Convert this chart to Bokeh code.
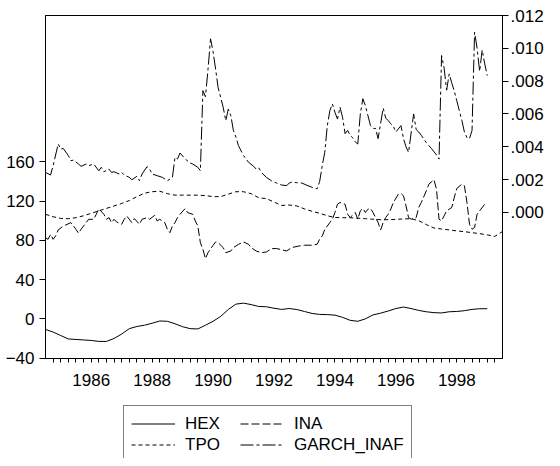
from bokeh.plotting import figure
from bokeh.layouts import column
from bokeh.models import (Range1d, LinearAxis, FixedTicker, Legend, LegendItem,
                          CustomJSTickFormatter)
from bokeh.embed import file_html
from bokeh.resources import INLINE

# ---------------- data (month index counted from January 1985) ----------------
START_YEAR = 1985

hex_month = list(range(0, 175, 3))
hex_vals = [-10.8, -13.5, -17, -20.5, -21, -21.5, -22, -23, -23, -20, -15.5, -10,
            -7.8, -6.5, -4.5, -2.2, -2.5, -5, -8, -10, -10.3, -6.5, -2.5, 2.5,
            9.5, 15, 16, 14.5, 12.6, 12.3, 10.8, 9.6, 10.5, 9.5, 7.5, 5.5,
            4.5, 4.3, 3.8, 1.5, -1.5, -2.5, 0, 4, 5.8, 8, 10.5, 12,
            10.5, 8.6, 7.2, 6.3, 6, 7.2, 7.5, 8.3, 9.6, 10.3, 10.3]

tpo_month = list(range(0, 181, 3))
tpo_vals = [106.5, 104, 102.3, 102, 103, 105, 107.5, 110, 112.5, 115, 117.5, 120.5,
            124.5, 128, 129.5, 130, 127.5, 126, 126, 126, 126, 125.5, 124.5, 124.5,
            127, 129.5, 129.5, 127.5, 123.3, 122.5, 119, 115.5, 116, 115, 112, 109.5,
            107.5, 105, 103.3, 103, 103, 102.5, 102, 101.5, 101, 101, 101.3, 101.8,
            102, 100, 96, 92.5, 91.5, 90.6, 89.6, 88.8, 87.8, 86.8, 85.5, 84, 89]

ina_month = [0, 1, 2, 3, 4, 5, 7, 8, 10, 11, 12, 13, 14, 16, 17, 19, 20, 21, 23, 24,
             25, 26, 27, 28, 30, 31, 32, 34, 35, 37, 38, 40, 41, 43, 44, 45, 47, 48, 49, 50,
             51, 52, 53, 55, 56, 58, 59, 60, 61, 62, 63, 64, 66, 67, 68, 70, 71, 73, 74, 76,
             78, 80, 81, 83, 85, 87, 89, 91, 95, 97, 100, 102, 105, 107, 108, 109, 110, 112, 113, 114,
             115, 116, 118, 119, 120, 122, 123, 124, 125, 126, 127, 128, 129, 131, 132, 133, 134, 135, 136, 137,
             139, 140, 141, 142, 143, 144, 146, 147, 148, 150, 151, 153, 154, 155, 156, 157, 158, 160, 161, 162,
             164, 165, 166, 167, 168, 169, 170, 171, 173]
ina_vals = [82.5, 81, 86, 81, 84.5, 90.5, 94.6, 95.6, 98, 94.6, 91.2, 87.2, 91.2, 98, 101.4, 101.4, 106.5, 112, 106.5, 101.4,
            103.1, 98, 101.4, 98.7, 96.3, 101.4, 104.8, 98, 102.1, 96.3, 101.4, 103.1, 101.4, 105.5, 99.7, 101.4, 98, 91.2, 87.8, 94.6,
            98, 103.1, 106.5, 112.3, 108.2, 106.5, 99.7, 94.6, 77.6, 70.8, 61.3, 67.4, 74.9, 78.3, 77.6, 72.5, 67.4, 69.1, 72.5, 75.9,
            78.3, 75.9, 72.5, 69.1, 67.4, 68.1, 71.5, 71.6, 69.2, 72.6, 74.3, 75, 75, 76, 81.1, 84.5, 91, 98.1, 101.5, 108.3,
            116.8, 118.5, 116.8, 106.6, 103.2, 108.3, 101.5, 110, 112.4, 108.3, 111.7, 112.4, 108.3, 98.1, 90.6, 98.1, 103.2, 106.6, 111.7, 118.5,
            127, 127.7, 125.3, 115.1, 103.2, 101.5, 103.2, 113.4, 118.5, 130.4, 137.2, 141.7, 132.1, 101.5, 99.8, 104.9, 110, 113.4, 123.6, 132.8,
            137.2, 135.5, 118.5, 96.4, 91.3, 93, 106.6, 110, 116.8]

garch_month = [0, 2, 3, 5, 6, 7, 9, 10, 11, 13, 14, 16, 17, 19, 21, 22, 23, 25, 26, 27,
               29, 30, 31, 33, 34, 36, 37, 38, 40, 41, 42, 44, 46, 48, 49, 50, 51, 52, 53, 55,
               57, 58, 60, 61, 62, 63, 64, 65, 66, 67, 68, 69, 70, 71, 72, 73, 74, 75, 76, 78,
               80, 82, 83, 84, 85, 87, 89, 91, 93, 95, 96, 97, 99, 101, 103, 105, 107, 108, 109, 110,
               111, 112, 113, 114, 115, 116, 117, 118, 119, 120, 121, 122, 123, 124, 125, 126, 127, 128, 129, 130,
               131, 133, 134, 135, 136, 137, 138, 140, 141, 142, 143, 145, 146, 147, 148, 150, 151, 152, 154, 155,
               156, 157, 158, 159, 160, 161, 162, 163, 164, 165, 166, 167, 168, 169, 170, 171, 172, 173, 174]
garch_vals = [.00244, .00228, .00285, .00417, .00386, .00390, .00346, .00315, .00319, .00295, .00281, .00295, .00285, .00295, .00254, .00275, .00248, .00264, .00244, .00248,
              .00234, .00244, .00228, .00214, .00199, .00220, .00193, .00234, .00279, .00264, .00234, .00224, .00214, .00193, .00203, .00214, .00336, .00326, .00362, .00326,
              .00301, .00295, .00275, .00254, .00742, .00705, .00870, .01058, .00980, .00874, .00760, .00700, .00640, .00559, .00630, .00590, .00500, .00460, .00407, .00346,
              .00305, .00281, .00264, .00272, .00244, .00214, .00193, .00179, .00167, .00163, .00179, .00185, .00181, .00179, .00165, .00153, .00144, .00190, .00285, .00366,
              .00529, .00620, .00661, .00610, .00569, .00641, .00580, .00480, .00500, .00470, .00455, .00430, .00417, .00600, .00693, .00650, .00590, .00529, .00512, .00512,
              .00450, .00636, .00575, .00559, .00540, .00525, .00490, .00529, .00450, .00400, .00366, .00600, .00505, .00490, .00470, .00425, .00407, .00390, .00350, .00325,
              .00956, .00880, .00745, .00844, .00790, .00740, .00680, .00620, .00560, .00490, .00455, .00450, .00500, .01098, .01000, .00860, .00990, .00905, .00834]

year_tick_pos = [1986.5, 1988.5, 1990.5, 1992.5, 1994.5, 1996.5, 1998.5]
year_labels = ["1986", "1988", "1990", "1992", "1994", "1996", "1998"]
left_ticks = [-40, 0, 40, 80, 120, 160]
right_ticks = [0.000, 0.002, 0.004, 0.006, 0.008, 0.010, 0.012]
right_labels = [".000", ".002", ".004", ".006", ".008", ".010", ".012"]

series_names = ["HEX", "INA", "TPO", "GARCH_INAF"]
series_dash = ["solid", "8 3", "4 3", "13 3 3 3"]

FONT = "Liberation Sans"
FS = "17px"
W = 552
BL, BR = 45, 50


def years(months):
    return [START_YEAR + m / 12 for m in months]


p = figure(width=W, height=393, output_backend="svg", toolbar_location=None,
           x_range=Range1d(1985, 2000), y_range=Range1d(-40.4, 309),
           min_border_left=BL, min_border_right=BR, min_border_top=15, min_border_bottom=35,
           background_fill_color="white", border_fill_color="white")
p.grid.visible = False
p.outline_line_color = "black"
p.outline_line_width = 1
p.outline_line_alpha = 1
p.extra_y_ranges = {"garch": Range1d(-0.0089, 0.012)}

label_js = """
const i = pos.findIndex(t => Math.abs(t - tick) < 1e-9);
return i >= 0 ? labels[i] : '';
"""

xa = p.xaxis[0]
xa.ticker = FixedTicker(ticks=year_tick_pos,
                        minor_ticks=[START_YEAR + q / 4 for q in range(1, 60)])
xa.formatter = CustomJSTickFormatter(args=dict(pos=year_tick_pos, labels=year_labels), code=label_js)
xa.major_tick_out = 0
xa.major_tick_in = 0
xa.minor_tick_out = 4
xa.minor_tick_in = 0
xa.major_label_standoff = 11

ya = p.yaxis[0]
ya.ticker = FixedTicker(ticks=left_ticks, minor_ticks=[])
ya.major_tick_out = 6
ya.major_tick_in = 0
ya.major_label_standoff = 5

ra = LinearAxis(y_range_name="garch",
                ticker=FixedTicker(ticks=right_ticks, minor_ticks=[]),
                formatter=CustomJSTickFormatter(args=dict(pos=right_ticks, labels=right_labels), code=label_js))
ra.major_tick_out = 6
ra.major_tick_in = 0
ra.major_label_standoff = 2
p.add_layout(ra, "right")

for ax in (xa, ya, ra):
    ax.axis_line_color = "black"
    ax.major_tick_line_color = "black"
    ax.minor_tick_line_color = "black"
    ax.major_label_text_font = FONT
    ax.major_label_text_font_size = FS
    ax.major_label_text_color = "black"

p.line(years(hex_month), hex_vals, line_color="black", line_width=1, line_dash=series_dash[0])
p.line(years(ina_month), ina_vals, line_color="black", line_width=1, line_dash=series_dash[1])
p.line(years(tpo_month), tpo_vals, line_color="black", line_width=1, line_dash=series_dash[2])
p.line(years(garch_month), garch_vals, line_color="black", line_width=1,
       line_dash=series_dash[3], y_range_name="garch")

# ---- legend strip below the chart (keys only, drawn out of view) ----
lg = figure(width=W, height=65, output_backend="svg", toolbar_location=None,
            x_range=Range1d(0, 1), y_range=Range1d(0, 1),
            x_axis_location=None, y_axis_location=None,
            min_border_left=BL, min_border_right=BR, min_border_top=0, min_border_bottom=0,
            background_fill_color="white", border_fill_color="white")
lg.grid.visible = False
lg.outline_line_color = None
keys = []
for name, months, vals, dash in zip(series_names,
                                    [hex_month, ina_month, tpo_month, garch_month],
                                    [hex_vals, ina_vals, tpo_vals, garch_vals], series_dash):
    r = lg.line(years(months), vals, line_color="black", line_width=1, line_dash=dash)
    keys.append(LegendItem(label=name, renderers=[r]))

legend = Legend(items=keys, orientation="horizontal", ncols=2, location=(78, -5),
                margin=0, padding=7, spacing=0,
                glyph_width=44, glyph_height=21, label_height=21, label_width=55,
                label_standoff=10,
                label_text_font=FONT, label_text_font_size=FS, label_text_color="black",
                border_line_color="black", border_line_width=1,
                background_fill_color="white", background_fill_alpha=1)
lg.add_layout(legend)

page = column(p, lg, spacing=0)
open("out.html", "w").write(file_html(page, INLINE))
